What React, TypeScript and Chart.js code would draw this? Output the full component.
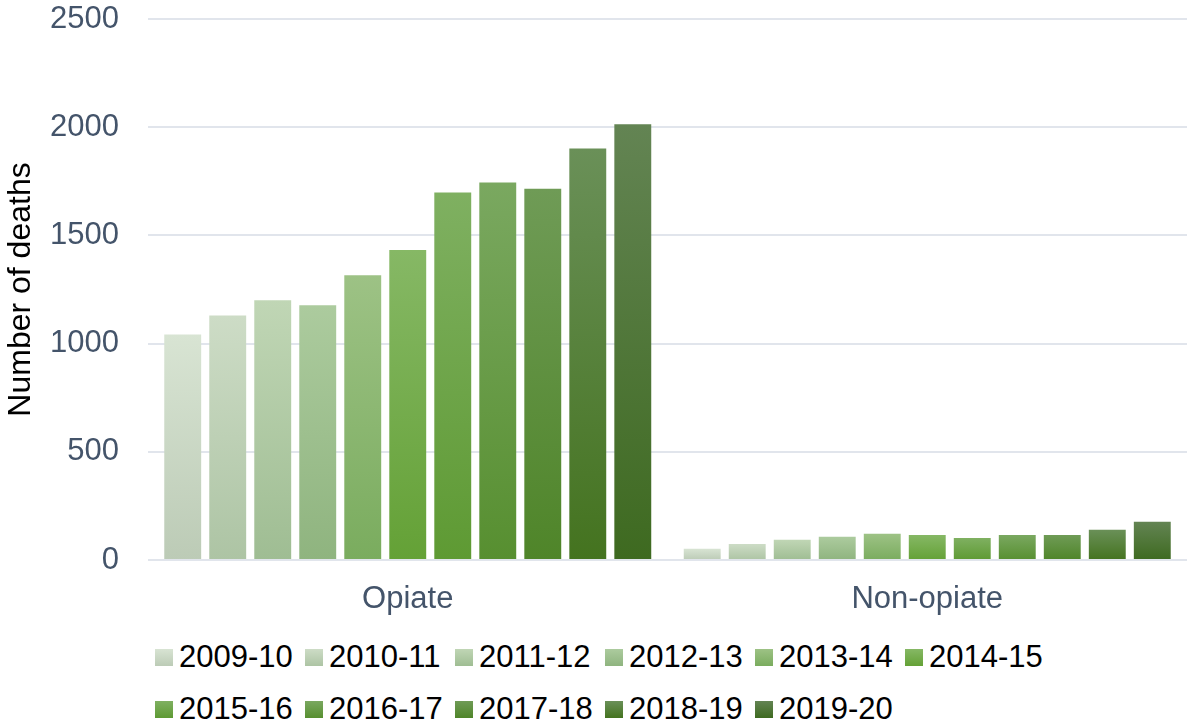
import React, { useEffect, useRef } from "react";
import { Chart, registerables } from "chart.js";

Chart.register(...registerables);

const categories = ["Opiate", "Non-opiate"];
const years = [
  "2009-10", "2010-11", "2011-12", "2012-13", "2013-14", "2014-15",
  "2015-16", "2016-17", "2017-18", "2018-19", "2019-20",
];
const opiate = [1042, 1130, 1200, 1177, 1316, 1433, 1698, 1744, 1716, 1902, 2014];
const nonOpiate = [52, 74, 93, 107, 121, 116, 102, 116, 116, 140, 177];
const yTicks = [0, 500, 1000, 1500, 2000, 2500];

const topColors = [
  "#d8e4d3", "#cddcc6", "#c0d6b5", "#accb9e", "#9dc285", "#86b865",
  "#7fb061", "#7aa860", "#6f9b56", "#6a9058", "#638453",
];
const bottomColors = [
  "#bccbb6", "#adc4a4", "#9fbd93", "#8fb47f", "#7aac5e", "#64a136",
  "#5e9a33", "#578f30", "#4f8529", "#44731f", "#3e6a20",
];

const FONT = "'Liberation Sans', Arial, sans-serif";

export default function App() {
  const ref = useRef<HTMLCanvasElement | null>(null);

  useEffect(() => {
    if (!ref.current) return;
    const chart = new Chart(ref.current, {
      type: "bar",
      data: {
        labels: categories,
        datasets: years.map((y, i) => ({
          label: y,
          data: [opiate[i], nonOpiate[i]],
          borderWidth: 0,
          backgroundColor: (ctx: any) => {
            const c = ctx.chart;
            if (!c.chartArea || ctx.type !== "data" || typeof ctx.raw !== "number") {
              return topColors[i];
            }
            const ys = c.scales.y;
            const top = ys.getPixelForValue(ctx.raw);
            const bottom = ys.getPixelForValue(0);
            const g = c.ctx.createLinearGradient(0, top, 0, bottom);
            g.addColorStop(0, topColors[i]);
            g.addColorStop(1, bottomColors[i]);
            return g;
          },
          barPercentage: 0.82,
          categoryPercentage: 0.953,
        })),
      },
      options: {
        animation: false,
        responsive: false,
        maintainAspectRatio: false,
        layout: { autoPadding: false, padding: { top: 19, left: 0, right: 0, bottom: 0 } },
        plugins: {
          legend: { display: false },
          tooltip: { enabled: false },
        },
        scales: {
          x: {
            grid: { display: false, drawTicks: false },
            border: { display: false },
            ticks: {
              color: "#44546a",
              font: { family: FONT, size: 31 },
              padding: 21,
            },
            afterFit: (s: any) => {
              s.height = 60;
              s.paddingLeft = 0;
              s.paddingRight = 0;
            },
          },
          y: {
            min: 0,
            max: 2500,
            afterBuildTicks: (axis: any) => {
              axis.ticks = yTicks.map((v) => ({ value: v }));
            },
            grid: { color: "#e1e5ec", lineWidth: 2, drawTicks: false },
            border: { display: false },
            ticks: {
              color: "#44546a",
              font: { family: FONT, size: 31 },
              padding: 29,
              callback: (v: any) => String(v),
            },
            title: {
              display: true,
              text: "Number of deaths",
              color: "#000000",
              font: { family: FONT, size: 32 },
              padding: { top: 2, bottom: 4 },
            },
            afterFit: (s: any) => {
              s.width = 148;
              s.paddingTop = 0;
              s.paddingBottom = 0;
            },
          },
        },
      },
    });
    return () => chart.destroy();
  }, []);

  return (
    <div
      style={{
        position: "fixed",
        left: 0,
        top: 0,
        width: 1187,
        height: 724,
        background: "#ffffff",
        fontFamily: FONT,
        overflow: "hidden",
      }}
    >
      <canvas
        ref={ref}
        width={1187}
        height={620}
        style={{ position: "absolute", left: 0, top: 0, width: 1187, height: 620 }}
      />
      <div
        style={{
          position: "absolute",
          left: 155,
          top: 631,
          width: 920,
          display: "flex",
          flexWrap: "wrap",
        }}
      >
        {years.map((y, i) => (
          <div
            key={y}
            style={{
              width: 150,
              height: 52,
              display: "flex",
              alignItems: "center",
              fontSize: 31,
              color: "#000000",
              whiteSpace: "nowrap",
            }}
          >
            <span
              style={{
                display: "inline-block",
                width: 18,
                height: 17,
                marginRight: 6,
                background: `linear-gradient(${topColors[i]}, ${bottomColors[i]})`,
              }}
            />
            <span>{y}</span>
          </div>
        ))}
      </div>
    </div>
  );
}
